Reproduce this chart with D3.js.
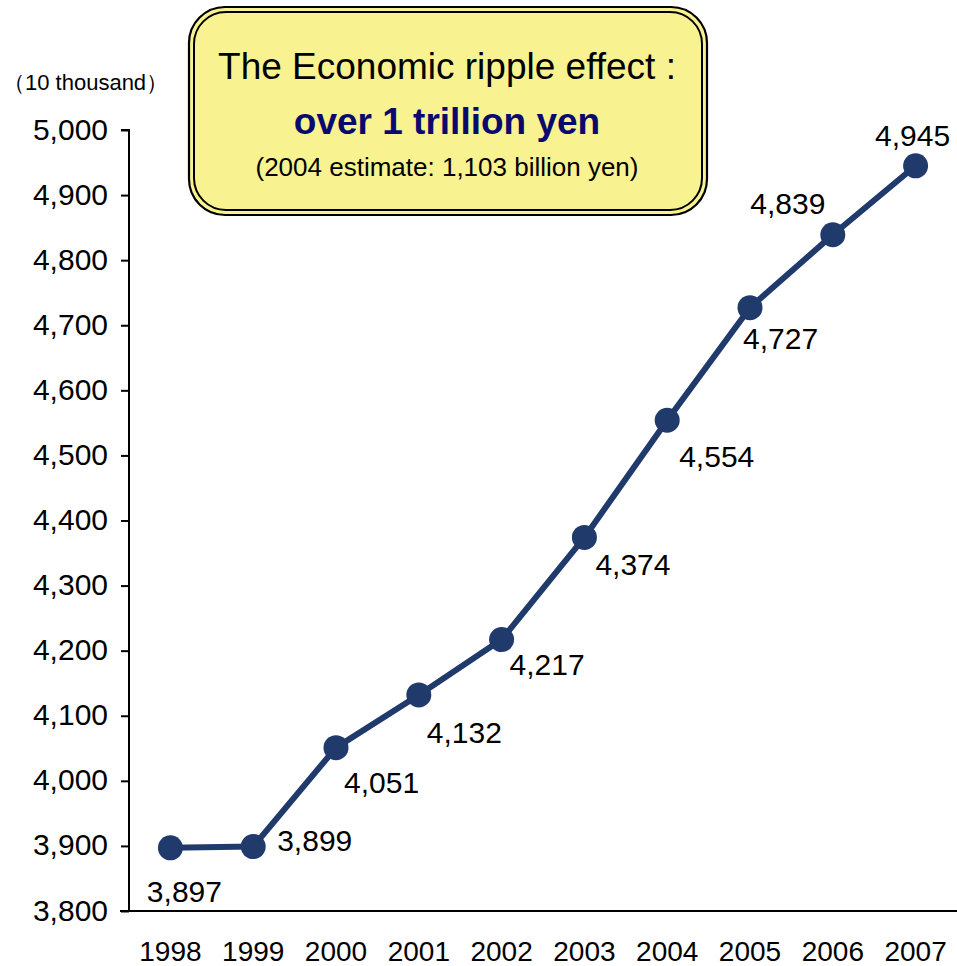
<!DOCTYPE html>
<html>
<head>
<meta charset="utf-8">
<script src="https://cdn.jsdelivr.net/npm/d3@7/dist/d3.min.js"></script>
<style>
  html, body { margin: 0; padding: 0; background: #fff; }
  svg { display: block; font-family: "Liberation Sans", Arial, sans-serif; }
</style>
</head>
<body>
<svg id="chart" width="957" height="966"></svg>
<script>
// Economic ripple effect by year (unit: 10 thousand)
const years = ["1998", "1999", "2000", "2001", "2002", "2003", "2004", "2005", "2006", "2007"];
const values = [3897, 3899, 4051, 4132, 4217, 4374, 4554, 4727, 4839, 4945];
const yTicks = [3800, 3900, 4000, 4100, 4200, 4300, 4400, 4500, 4600, 4700, 4800, 4900, 5000];
const unitLabel = "（10 thousand）";
const headline = ["The Economic ripple effect :", "over 1 trillion yen", "(2004 estimate: 1,103 billion yen)"];
// label placement per point: [dx, dy] relative to the marker, and text anchor
const labelPos = [
  [14, 44, "middle"], [24, -6, "start"], [8, 35, "start"], [8, 38, "start"],
  [8, 25, "start"], [11, 27, "start"], [12, 36, "start"], [-7, 31, "start"],
  [-45, -31, "middle"], [-3, -30, "middle"]
];

const svg = d3.select("#chart");
const lineColor = "#203a6c";
const fmt = d3.format(",");
const font = "Liberation Sans, Arial, sans-serif";

const x = d3.scaleBand().domain(years).range([129, 957]);
const y = d3.scaleLinear().domain([3800, 5000]).range([911, 130]);

// y axis
const yAxis = svg.append("g")
  .attr("transform", "translate(129,0)")
  .call(d3.axisLeft(y).tickValues(yTicks).tickFormat(fmt).tickSize(8).tickPadding(13));
yAxis.select(".domain").attr("stroke", "#000").attr("stroke-width", 2).attr("d", `M-8,${y(5000)}H0V${y(3800)}`);
yAxis.selectAll(".tick line").attr("stroke", "#000").attr("stroke-width", 2);
yAxis.selectAll(".tick text").attr("font-size", 30).attr("fill", "#000")
  .attr("font-family", font).attr("dy", "0.3em");

// x axis
const xAxis = svg.append("g")
  .attr("transform", `translate(0,${y(3800)})`)
  .call(d3.axisBottom(x).tickSize(0).tickPadding(30));
xAxis.select(".domain").attr("stroke", "#000").attr("stroke-width", 2).attr("d", "M120,0H957");
xAxis.selectAll(".tick text").attr("font-size", 28).attr("fill", "#000")
  .attr("font-family", font);

// unit label
svg.append("text").attr("x", 3).attr("y", 90).attr("font-size", 22).attr("fill", "#000")
  .text(unitLabel);

// line and markers
const pts = years.map((yr, i) => ({ yr, v: values[i] }));
const cx = d => x(d.yr) + x.bandwidth() / 2;
svg.append("path").datum(pts)
  .attr("fill", "none").attr("stroke", lineColor).attr("stroke-width", 6)
  .attr("stroke-linejoin", "round")
  .attr("d", d3.line().x(cx).y(d => y(d.v)));
svg.selectAll("circle.pt").data(pts).join("circle")
  .attr("class", "pt")
  .attr("cx", cx).attr("cy", d => y(d.v)).attr("r", 12.5)
  .attr("fill", lineColor);

// value labels
svg.selectAll("text.val").data(pts).join("text")
  .attr("class", "val")
  .attr("x", (d, i) => cx(d) + labelPos[i][0])
  .attr("y", (d, i) => y(d.v) + labelPos[i][1])
  .attr("text-anchor", (d, i) => labelPos[i][2])
  .attr("dominant-baseline", "central")
  .attr("font-size", 30).attr("fill", "#000")
  .text(d => fmt(d.v));

// headline box with double border
const box = svg.append("g");
box.append("rect").attr("x", 189).attr("y", 7).attr("width", 518).attr("height", 208)
  .attr("rx", 36).attr("fill", "#f8f290").attr("stroke", "#000").attr("stroke-width", 2.2);
box.append("rect").attr("x", 194).attr("y", 12).attr("width", 508).attr("height", 198)
  .attr("rx", 32).attr("fill", "none").attr("stroke", "#000").attr("stroke-width", 2);
box.append("text").attr("x", 447).attr("y", 66).attr("text-anchor", "middle")
  .attr("dominant-baseline", "central").attr("font-size", 37).attr("fill", "#000")
  .text(headline[0]);
box.append("text").attr("x", 447).attr("y", 121).attr("text-anchor", "middle")
  .attr("dominant-baseline", "central").attr("font-size", 37).attr("font-weight", "bold")
  .attr("fill", "#0a0a6e").text(headline[1]);
box.append("text").attr("x", 447).attr("y", 167).attr("text-anchor", "middle")
  .attr("dominant-baseline", "central").attr("font-size", 26).attr("fill", "#000")
  .text(headline[2]);
</script>
</body>
</html>
